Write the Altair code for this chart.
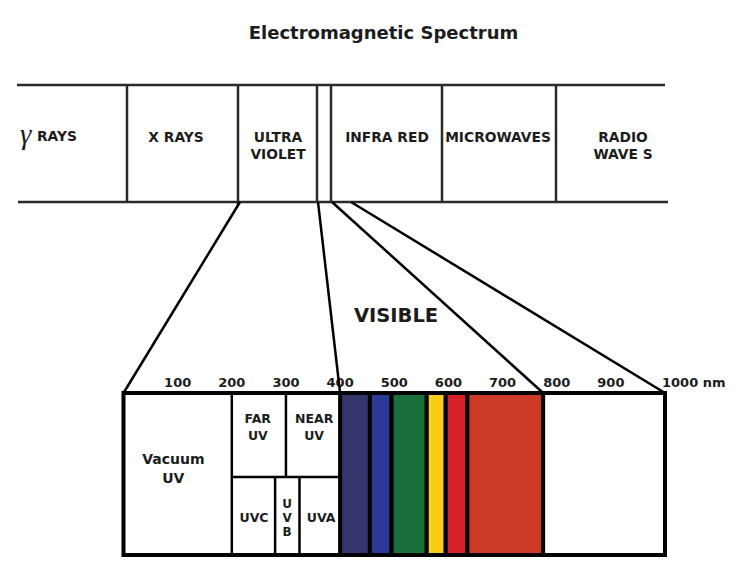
import altair as alt
import pandas as pd

TITLE = "Electromagnetic Spectrum"

# ---- upper schematic band (diagram units) ----
band_left, band_right = 17, 666
band_top, band_bottom = 85, 202
band_dividers = [127, 238, 317, 331, 442, 556]
band_names = ["X RAYS", "ULTRA\nVIOLET", "INFRA RED", "MICROWAVES", "RADIO\nWAVE S"]
band_name_x = [176, 278, 387, 498, 623]

# ---- connectors: upper band point -> wavelength on lower box (nm) ----
fan_top_x = [240, 318, 332, 351]
fan_nm = [0, 400, 775, 1000]

# ---- lower box (wavelength, nm) ----
box_nm = [0, 1000]
box_top, box_mid, box_bottom = 393, 477, 555
tick_nm = [100, 200, 300, 400, 500, 600, 700, 800, 900]
tick_labels = ["100", "200", "300", "400", "500", "600", "700", "800", "900"]
end_label = "1000 nm"
uv_full_split_nm = [200]
uv_upper_split_nm = [300]
uv_lower_split_nm = [280, 325]
uv_names = ["Vacuum\nUV", "FAR\nUV", "NEAR\nUV", "UVC", "U\nV\nB", "UVA"]
uv_name_nm = [92, 248, 352, 241, 302, 365]
visible_edges = [400, 455, 495, 560, 595, 635, 775]
visible_colors = ["#34356d", "#2c3996", "#19703b", "#f8cd18", "#d52228", "#cc3b27"]

# nm -> diagram units (as measured on the picture's lower box)
NM_EXPR = "123.5 + 0.5415 * datum.nm"

xs = alt.Scale(domain=[8, 738], nice=False, zero=False)
ys = alt.Scale(domain=[8, 566], nice=False, zero=False, reverse=True)
INK = "#1c1c1c"


def X(f="x"):
    return alt.X(f"{f}:Q", scale=xs, axis=None)


def Y(f="y"):
    return alt.Y(f"{f}:Q", scale=ys, axis=None)


def text_layer(df, size, align="center", font="DejaVu Sans", weight="bold",
               style="normal", line_height=None, nm=False):
    ch = alt.Chart(df)
    if nm:
        ch = ch.transform_calculate(x=NM_EXPR)
    return ch.mark_text(
        font=font, fontSize=size, fontWeight=weight, fontStyle=style,
        align=align, baseline="alphabetic", lineBreak="\n",
        lineHeight=line_height or size * 1.2, color=INK,
    ).encode(x=X(), y=Y(), text="t:N")


# upper band lines
seg_rows = [
    {"x": band_left, "x2": band_right - 1, "y": band_top, "y2": band_top},
    {"x": band_left + 1, "x2": band_right + 2, "y": band_bottom, "y2": band_bottom},
]
for d in band_dividers:
    seg_rows.append({"x": d, "x2": d, "y": band_top, "y2": band_bottom + (3 if d == 238 else 0)})
upper_lines = alt.Chart(pd.DataFrame(seg_rows)).mark_rule(
    color="#2a2a2a", strokeWidth=2.5).encode(x=X(), x2="x2:Q", y=Y(), y2="y2:Q")

# lower box outline
box = alt.Chart(pd.DataFrame({"nm": [box_nm[0]], "nm2": [box_nm[1]],
                              "y": [box_top], "y2": [box_bottom]})).transform_calculate(
    x=NM_EXPR, x2="123.5 + 0.5415 * datum.nm2"
).mark_rect(fill="white", stroke="black", strokeWidth=4).encode(
    x=X(), x2="x2:Q", y=Y(), y2="y2:Q")

# visible colour bands
vis_df = pd.DataFrame({"nm": visible_edges[:-1], "nm2": visible_edges[1:],
                       "c": visible_colors, "y": box_top, "y2": box_bottom})
vis = alt.Chart(vis_df).transform_calculate(
    x=NM_EXPR, x2="123.5 + 0.5415 * datum.nm2"
).mark_rect(stroke="black", strokeWidth=4).encode(
    x=X(), x2="x2:Q", y=Y(), y2="y2:Q", fill=alt.Fill("c:N", scale=None))

# UV subdivision lines
uv_rows = []
for v in uv_full_split_nm:
    uv_rows.append({"nm": v, "nm2": v, "y": box_top, "y2": box_bottom})
for v in uv_upper_split_nm:
    uv_rows.append({"nm": v, "nm2": v, "y": box_top, "y2": box_mid})
for v in uv_lower_split_nm:
    uv_rows.append({"nm": v, "nm2": v, "y": box_mid, "y2": box_bottom})
uv_rows.append({"nm": 200, "nm2": 400, "y": box_mid, "y2": box_mid})
uv_lines = alt.Chart(pd.DataFrame(uv_rows)).transform_calculate(
    x=NM_EXPR, x2="123.5 + 0.5415 * datum.nm2"
).mark_rule(color="black", strokeWidth=2.5).encode(x=X(), x2="x2:Q", y=Y(), y2="y2:Q")

# fan connector lines
fan_df = pd.DataFrame({"x": fan_top_x, "nm": fan_nm, "y": band_bottom, "y2": box_top})
fan = alt.Chart(fan_df).transform_calculate(x2=NM_EXPR).mark_rule(
    color="black", strokeWidth=2.5).encode(x=X(), x2="x2:Q", y=Y(), y2="y2:Q")

# texts
title = text_layer(pd.DataFrame({"t": [TITLE], "x": [383.5], "y": [39]}), 18)
bands = text_layer(pd.DataFrame({"t": band_names, "x": band_name_x, "y": 142}), 13.8,
                   line_height=16.5)
gamma = text_layer(pd.DataFrame({"t": ["γ"], "x": [20], "y": [144]}), 29,
                   align="left", font="Liberation Serif", weight="normal", style="italic")
rays = text_layer(pd.DataFrame({"t": ["RAYS"], "x": [37], "y": [140.5]}), 13.8, align="left")
visible = text_layer(pd.DataFrame({"t": ["VISIBLE"], "x": [396], "y": [322]}), 19.5)
ticks = text_layer(pd.DataFrame({"t": tick_labels, "nm": tick_nm, "y": 387}), 13, nm=True)
end_tick = text_layer(pd.DataFrame({"t": [end_label], "x": [662], "y": [387]}), 13, align="left")

uv_y = [464, 423, 423, 522, 508, 522]
uv_lh = [19, 17, 17, 17, 14, 17]
uv_sz = [14, 12.5, 12.5, 12.5, 12, 12.5]
uv_layers = [
    text_layer(pd.DataFrame({"t": [t], "nm": [n], "y": [yy]}), s, line_height=lh, nm=True)
    for t, n, yy, lh, s in zip(uv_names, uv_name_nm, uv_y, uv_lh, uv_sz)
]

chart = alt.layer(
    upper_lines, box, vis, uv_lines, title, bands, gamma, rays, visible,
    ticks, end_tick, *uv_layers, fan,
).properties(
    width=730, height=558,
    autosize=alt.AutoSizeParams(type="fit", contains="padding"),
    padding=0, background="white",
).configure_view(stroke=None)

chart.save("out.html", embed_options={"renderer": "svg", "actions": False})
